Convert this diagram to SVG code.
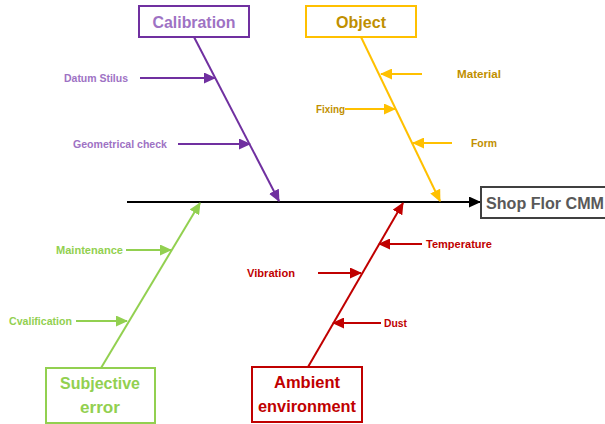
<svg xmlns="http://www.w3.org/2000/svg" width="605" height="424" viewBox="0 0 605 424">
<style>
.lbl{font-family:"Liberation Sans",Arial,sans-serif;font-weight:bold;font-size:11px}
.ttl{font-family:"Liberation Sans",Arial,sans-serif;font-weight:bold;font-size:17px;text-anchor:middle}
.box{fill:#fff;stroke-width:2}
.bone{stroke-width:2;fill:none}
.sub{stroke-width:1.8;fill:none}
</style>
<defs>
<marker id="aK" markerUnits="userSpaceOnUse" markerWidth="13" markerHeight="11" refX="11" refY="5.5" orient="auto"><path d="M0,0 L12,5.5 L0,11 Z" fill="#000"/></marker>
<marker id="aP" markerUnits="userSpaceOnUse" markerWidth="13" markerHeight="11" refX="11" refY="5.5" orient="auto"><path d="M0,0 L12,5.5 L0,11 Z" fill="#7030A0"/></marker>
<marker id="aY" markerUnits="userSpaceOnUse" markerWidth="13" markerHeight="11" refX="11" refY="5.5" orient="auto"><path d="M0,0 L12,5.5 L0,11 Z" fill="#FFC000"/></marker>
<marker id="aG" markerUnits="userSpaceOnUse" markerWidth="13" markerHeight="11" refX="11" refY="5.5" orient="auto"><path d="M0,0 L12,5.5 L0,11 Z" fill="#92D050"/></marker>
<marker id="aR" markerUnits="userSpaceOnUse" markerWidth="13" markerHeight="11" refX="11" refY="5.5" orient="auto"><path d="M0,0 L12,5.5 L0,11 Z" fill="#C00000"/></marker>
</defs>
<rect width="605" height="424" fill="#fff"/>
<g id="connectors">
<line x1="127" y1="202" x2="480" y2="202" stroke="#000" stroke-width="2" marker-end="url(#aK)"/>
<line class="bone" x1="194" y1="37" x2="279" y2="201" stroke="#7030A0" marker-end="url(#aP)"/>
<line class="sub" x1="140" y1="78" x2="215" y2="78" stroke="#7030A0" marker-end="url(#aP)"/>
<line class="sub" x1="178" y1="144" x2="250" y2="144" stroke="#7030A0" marker-end="url(#aP)"/>
<line class="bone" x1="361" y1="37" x2="440" y2="201" stroke="#FFC000" marker-end="url(#aY)"/>
<line class="sub" x1="422" y1="74" x2="381" y2="74" stroke="#FFC000" marker-end="url(#aY)"/>
<line class="sub" x1="345" y1="109" x2="395" y2="109" stroke="#FFC000" marker-end="url(#aY)"/>
<line class="sub" x1="452" y1="143" x2="413" y2="143" stroke="#FFC000" marker-end="url(#aY)"/>
<line class="bone" x1="101" y1="368" x2="200" y2="203" stroke="#92D050" marker-end="url(#aG)"/>
<line class="sub" x1="126" y1="250" x2="171" y2="250" stroke="#92D050" marker-end="url(#aG)"/>
<line class="sub" x1="76" y1="321" x2="127" y2="321" stroke="#92D050" marker-end="url(#aG)"/>
<line class="bone" x1="308" y1="367" x2="403" y2="203" stroke="#C00000" marker-end="url(#aR)"/>
<line class="sub" x1="422" y1="244" x2="379" y2="244" stroke="#C00000" marker-end="url(#aR)"/>
<line class="sub" x1="318" y1="273" x2="361" y2="273" stroke="#C00000" marker-end="url(#aR)"/>
<line class="sub" x1="381" y1="323" x2="333" y2="323" stroke="#C00000" marker-end="url(#aR)"/>
</g>
<g id="effect">
<rect class="box" x="481" y="187" width="130" height="31" stroke="#404040"/>
<text x="486" y="209" font-family="Liberation Sans,Arial,sans-serif" font-weight="bold" font-size="16" fill="#595959" textLength="118" lengthAdjust="spacingAndGlyphs">Shop Flor CMM</text>
</g>
<g id="calibration">
<rect class="box" x="139" y="6" width="110" height="31" stroke="#7030A0"/>
<text class="ttl" x="194" y="28" fill="#9E72C4" textLength="83" lengthAdjust="spacingAndGlyphs">Calibration</text>
<text class="lbl" x="64" y="82" fill="#9E72C4" textLength="64" lengthAdjust="spacingAndGlyphs">Datum Stilus</text>
<text class="lbl" x="73" y="148" fill="#9E72C4" textLength="94" lengthAdjust="spacingAndGlyphs">Geometrical check</text>
</g>
<g id="object">
<rect class="box" x="306" y="6" width="110" height="31" stroke="#FFC000"/>
<text class="ttl" x="361" y="28" fill="#BF8F00" textLength="50" lengthAdjust="spacingAndGlyphs">Object</text>
<text class="lbl" x="457" y="78" fill="#BF8F00" textLength="44" lengthAdjust="spacingAndGlyphs">Material</text>
<text class="lbl" x="316" y="113" fill="#BF8F00" textLength="29" lengthAdjust="spacingAndGlyphs">Fixing</text>
<text class="lbl" x="471" y="147" fill="#BF8F00" textLength="26" lengthAdjust="spacingAndGlyphs">Form</text>
</g>
<g id="subjective">
<rect class="box" x="46" y="368" width="109" height="55" stroke="#92D050"/>
<text class="ttl" x="100" y="389" fill="#92D050" textLength="80" lengthAdjust="spacingAndGlyphs">Subjective</text>
<text class="ttl" x="100" y="413" fill="#92D050" textLength="40" lengthAdjust="spacingAndGlyphs">error</text>
<text class="lbl" x="56" y="254" fill="#92D050" textLength="67" lengthAdjust="spacingAndGlyphs">Maintenance</text>
<text class="lbl" x="9" y="325" fill="#92D050" textLength="63" lengthAdjust="spacingAndGlyphs">Cvalification</text>
</g>
<g id="ambient">
<rect class="box" x="252" y="367" width="110" height="55" stroke="#C00000"/>
<text class="ttl" x="307" y="388" fill="#C00000" textLength="66" lengthAdjust="spacingAndGlyphs">Ambient</text>
<text class="ttl" x="307" y="412" fill="#C00000" textLength="98" lengthAdjust="spacingAndGlyphs">environment</text>
<text class="lbl" x="426" y="248" fill="#C00000" textLength="66" lengthAdjust="spacingAndGlyphs">Temperature</text>
<text class="lbl" x="247" y="277" fill="#C00000" textLength="48" lengthAdjust="spacingAndGlyphs">Vibration</text>
<text class="lbl" x="384" y="327" fill="#C00000" textLength="23" lengthAdjust="spacingAndGlyphs">Dust</text>
</g>
</svg>
